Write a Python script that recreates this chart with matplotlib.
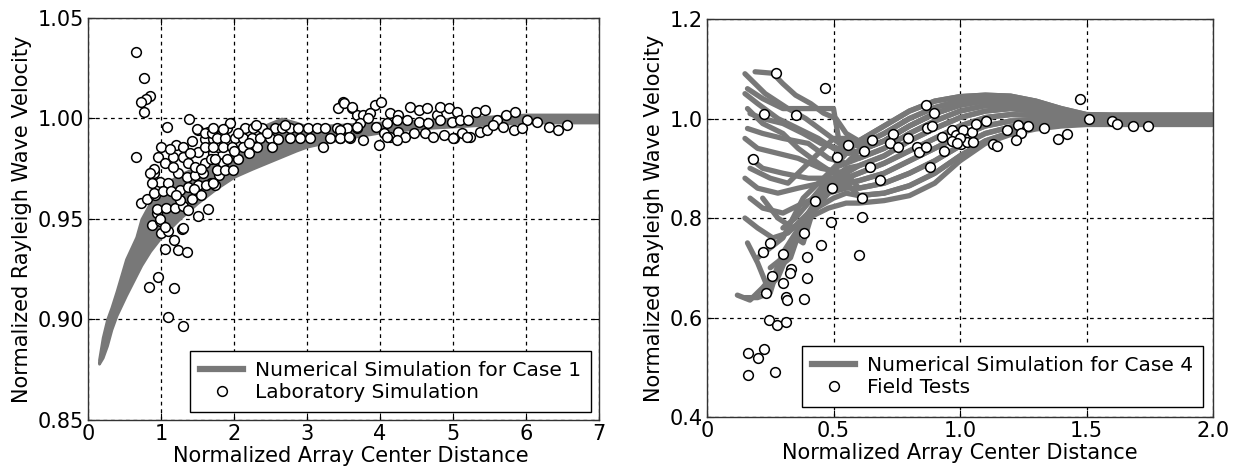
import matplotlib
matplotlib.use('Agg')
import matplotlib.pyplot as plt
from matplotlib.lines import Line2D

plt.rcParams['font.family'] = ['DejaVu Sans']

GRAY = '#787878'

# ---------------- Left panel data ----------------
left_xticks = [0, 1, 2, 3, 4, 5, 6, 7]
left_yticks = [0.85, 0.90, 0.95, 1.00, 1.05]
left_yticklabels = ['0.85', '0.90', '0.95', '1.00', '1.05']

num1_x = [0.15, 0.20, 0.26, 0.32, 0.39, 0.52, 0.66, 0.73, 0.85, 1.00, 1.25, 1.50,
          1.75, 2.00, 2.25, 2.45, 2.65, 2.85, 3.00, 3.50, 4.00, 4.50, 5.00, 5.50,
          6.00, 6.50, 7.00]
num1_upper = [0.880, 0.891, 0.900, 0.906, 0.914, 0.930, 0.941, 0.950, 0.958, 0.966,
              0.972, 0.976, 0.979, 0.982, 0.988, 0.997, 1.000, 0.998, 0.996, 0.997,
              0.998, 0.999, 1.000, 1.001, 1.002, 1.002, 1.002]
num1_lower = [0.878, 0.881, 0.887, 0.895, 0.902, 0.912, 0.922, 0.927, 0.934, 0.941,
              0.950, 0.958, 0.965, 0.971, 0.975, 0.978, 0.981, 0.984, 0.986, 0.990,
              0.993, 0.995, 0.996, 0.997, 0.998, 0.998, 0.998]

lab_pts = [
    (0.66, 1.033), (0.76, 1.020), (0.85, 1.011), (0.80, 1.0095), (0.72, 1.0084),
    (0.76, 1.003), (0.66, 0.981), (1.38, 0.9998), (1.08, 0.996), (1.00, 0.986),
    (0.73, 0.958), (0.87, 0.947), (0.98, 0.949), (0.94, 0.953), (1.00, 0.943),
    (1.10, 0.944), (1.18, 0.9395), (1.29, 0.945), (1.05, 0.935), (1.23, 0.9346),
    (1.35, 0.9337), (1.50, 0.9516), (1.65, 0.955), (0.96, 0.921), (0.84, 0.916),
    (1.18, 0.9158), (1.09, 0.9014), (1.30, 0.897), (0.81, 0.960), (0.92, 0.962),
    (0.95, 0.955), (0.99, 0.950), (1.30, 0.9455), (1.05, 0.946),
    (0.91, 0.9727), (0.98, 0.9686), (1.10, 0.9678), (1.23, 0.9727), (1.35, 0.971),
    (1.46, 0.972), (1.58, 0.9727), (1.69, 0.968), (0.91, 0.963), (1.03, 0.9637),
    (1.14, 0.9637), (1.26, 0.9645), (1.37, 0.966), (1.51, 0.967), (1.62, 0.967),
    (1.74, 0.967), (1.07, 0.9554), (1.19, 0.9554), (1.30, 0.9563), (1.37, 0.9546),
    (1.42, 0.960), (1.26, 0.9596),
    (1.21, 0.9868), (1.30, 0.986), (1.51, 0.9943), (1.64, 0.9934), (1.71, 0.9943),
    (1.60, 0.990), (1.71, 0.990), (1.51, 0.9835), (1.60, 0.986), (1.71, 0.9827),
    (1.16, 0.981), (1.30, 0.981), (0.96, 0.981), (0.91, 0.975), (1.05, 0.978),
    (1.16, 0.976), (1.37, 0.978), (1.46, 0.976), (1.60, 0.978), (1.69, 0.980),
    (0.85, 0.973), (0.87, 0.968), (1.49, 0.995), (1.60, 0.993), (1.70, 0.993),
    (1.42, 0.989), (1.12, 0.985), (1.40, 0.983), (1.55, 0.975), (1.45, 0.965),
    (1.55, 0.962), (1.20, 0.962), (1.80, 0.972), (1.85, 0.978), (1.78, 0.986),
    (1.717, 0.9951), (1.90, 0.9951), (2.151, 0.9951), (2.265, 0.9951), (2.379, 0.9951),
    (2.562, 0.9951), (2.653, 0.9951), (2.767, 0.9951), (2.881, 0.9951), (3.018, 0.9951),
    (3.132, 0.9951), (3.247, 0.9951), (3.406, 0.9951), (3.543, 0.9951), (3.680, 0.9951),
    (1.763, 0.9901), (1.877, 0.9901), (2.014, 0.9901), (2.128, 0.9901), (2.242, 0.9901),
    (2.356, 0.9901), (2.493, 0.9901), (2.767, 0.9901), (2.904, 0.9901), (3.041, 0.9901),
    (3.315, 0.9901), (3.452, 0.9901), (3.589, 0.9901),
    (1.717, 0.986), (1.854, 0.986), (1.968, 0.986), (2.128, 0.986), (2.31, 0.986),
    (2.516, 0.986), (3.224, 0.986),
    (1.74, 0.980), (1.90, 0.980), (2.06, 0.980), (1.763, 0.9744), (1.877, 0.9744),
    (1.99, 0.9744), (1.717, 0.968),
    (3.498, 1.0084), (3.429, 1.0051), (3.612, 1.0051), (3.680, 1.0017),
    (1.95, 0.998), (2.05, 0.993), (2.30, 0.997), (2.45, 0.993), (2.20, 0.988),
    (2.60, 0.990), (2.70, 0.997), (2.00, 0.984), (2.20, 0.983), (1.85, 0.995),
    (3.50, 1.0076), (3.61, 1.0056), (3.93, 1.0068), (4.02, 1.008),
    (3.77, 1.0018), (3.86, 1.0026), (4.14, 1.0026), (4.25, 1.0018), (4.41, 1.0059),
    (4.53, 1.0043), (4.64, 1.0051), (4.78, 1.0018), (4.82, 1.0059), (4.94, 1.0051),
    (5.05, 1.0034), (5.32, 1.0034), (5.44, 1.0043), (5.73, 1.0018), (5.85, 1.0034),
    (3.73, 0.9976), (3.84, 1.0001), (4.09, 0.9976), (4.23, 0.9993), (4.37, 0.9993),
    (4.53, 0.9984), (4.66, 0.9976), (4.82, 0.9993), (4.98, 0.9984), (5.10, 0.9993),
    (5.21, 0.9993), (5.60, 0.9993), (6.01, 0.9993), (6.15, 0.9984),
    (3.45, 0.9943), (3.45, 0.9901), (3.57, 0.991), (3.68, 0.9959), (3.95, 0.9959),
    (3.98, 0.9868), (4.05, 0.9926), (4.14, 0.991), (4.25, 0.9934), (4.34, 0.991),
    (4.46, 0.9926), (4.62, 0.9926), (4.73, 0.991), (4.87, 0.9918), (5.01, 0.9901),
    (5.12, 0.9926), (5.23, 0.991), (5.37, 0.9934), (5.46, 0.9943), (5.55, 0.9967),
    (5.69, 0.9959), (5.83, 0.9943), (5.94, 0.9951), (6.31, 0.9959), (6.44, 0.9943),
    (6.56, 0.9968), (3.77, 0.9893), (4.09, 0.991), (4.23, 0.9893), (5.00, 0.9901),
    (5.19, 0.991),
]
lab_x = [p[0] for p in lab_pts]
lab_y = [p[1] for p in lab_pts]

# ---------------- Right panel data ----------------
right_xticks = [0, 0.5, 1.0, 1.5, 2.0]
right_xticklabels = ['0', '0.5', '1.0', '1.5', '2.0']
right_yticks = [0.4, 0.6, 0.8, 1.0, 1.2]
right_yticklabels = ['0.4', '0.6', '0.8', '1.0', '1.2']

tmpl_x = [0.6, 0.7, 0.8, 0.9, 1.0, 1.1, 1.2, 1.3, 1.4, 1.5, 1.6, 1.8, 2.0]
tmpl = {
    'hi1':  [0.955, 0.985, 1.015, 1.035, 1.044, 1.047, 1.045, 1.035, 1.020, 1.008, 1.007, 1.007, 1.007],
    'hi2':  [0.945, 0.970, 1.000, 1.022, 1.036, 1.042, 1.040, 1.030, 1.017, 1.006, 1.005, 1.005, 1.005],
    'hi3':  [0.935, 0.955, 0.985, 1.010, 1.027, 1.036, 1.035, 1.027, 1.014, 1.004, 1.003, 1.003, 1.003],
    'mid1': [0.920, 0.940, 0.970, 0.995, 1.015, 1.026, 1.028, 1.020, 1.010, 1.002, 1.001, 1.001, 1.001],
    'mid2': [0.905, 0.925, 0.955, 0.980, 1.002, 1.015, 1.020, 1.014, 1.006, 1.000, 0.999, 0.999, 0.999],
    'mid3': [0.890, 0.910, 0.935, 0.960, 0.985, 1.002, 1.008, 1.006, 1.002, 0.998, 0.997, 0.997, 0.997],
    'lo1':  [0.875, 0.890, 0.915, 0.940, 0.965, 0.985, 0.995, 0.997, 0.996, 0.995, 0.995, 0.995, 0.995],
    'lo2':  [0.860, 0.870, 0.890, 0.915, 0.945, 0.970, 0.983, 0.989, 0.991, 0.993, 0.993, 0.993, 0.993],
    'lo3':  [0.845, 0.850, 0.865, 0.890, 0.925, 0.955, 0.972, 0.982, 0.987, 0.990, 0.990, 0.990, 0.990],
    'lo4':  [0.830, 0.835, 0.845, 0.870, 0.915, 0.950, 0.968, 0.979, 0.985, 0.988, 0.988, 0.988, 0.988],
}
# near-source part of each simulated curve, and the far-field track it continues into
case4_heads = [
    ([0.15, 0.23, 0.32, 0.39, 0.47, 0.55], [1.09, 1.05, 1.02, 1.00, 0.97, 0.94], 'mid1'),
    ([0.19, 0.26, 0.30, 0.35, 0.41, 0.46, 0.51, 0.55], [1.094, 1.091, 1.07, 1.047, 1.03, 1.011, 1.00, 0.97], 'hi1'),
    ([0.16, 0.22, 0.30, 0.38, 0.50, 0.52, 0.56], [1.06, 1.04, 1.02, 1.02, 1.02, 0.96, 0.95], 'hi2'),
    ([0.17, 0.22, 0.30, 0.38, 0.45, 0.52, 0.56], [1.01, 1.00, 0.99, 0.97, 0.95, 0.94, 0.93], 'hi3'),
    ([0.15, 0.20, 0.28, 0.36, 0.44, 0.50, 0.55], [1.05, 1.03, 1.00, 0.98, 0.96, 0.94, 0.93], 'hi3'),
    ([0.16, 0.22, 0.30, 0.40, 0.48, 0.55], [0.98, 0.97, 0.96, 0.95, 0.92, 0.91], 'mid1'),
    ([0.15, 0.20, 0.28, 0.36, 0.45, 0.55], [0.96, 0.94, 0.93, 0.92, 0.90, 0.89], 'mid2'),
    ([0.17, 0.22, 0.30, 0.40, 0.50, 0.55], [0.92, 0.90, 0.89, 0.88, 0.88, 0.88], 'mid3'),
    ([0.15, 0.20, 0.28, 0.36, 0.45, 0.55], [0.88, 0.86, 0.85, 0.86, 0.87, 0.87], 'lo1'),
    ([0.17, 0.22, 0.30, 0.38, 0.48, 0.55], [0.84, 0.82, 0.81, 0.83, 0.85, 0.86], 'lo2'),
    ([0.15, 0.20, 0.26, 0.32, 0.40, 0.50, 0.55], [0.80, 0.78, 0.76, 0.77, 0.81, 0.84, 0.85], 'lo3'),
    ([0.22, 0.28, 0.34, 0.40, 0.48, 0.55], [0.84, 0.80, 0.78, 0.80, 0.82, 0.83], 'lo4'),
    ([0.16, 0.20, 0.24, 0.28, 0.33, 0.40, 0.48, 0.55], [0.75, 0.71, 0.66, 0.68, 0.74, 0.80, 0.85, 0.87], 'lo1'),
    ([0.15, 0.20, 0.25, 0.28, 0.33, 0.37, 0.42, 0.50, 0.55], [0.64, 0.64, 0.65, 0.70, 0.72, 0.78, 0.82, 0.86, 0.88], 'mid3'),
    ([0.12, 0.17, 0.22, 0.27, 0.30, 0.35, 0.40, 0.45, 0.50, 0.55], [0.645, 0.635, 0.66, 0.69, 0.73, 0.77, 0.81, 0.85, 0.88, 0.90], 'mid2'),
    ([0.20, 0.25, 0.30, 0.34, 0.38, 0.44, 0.50, 0.55], [0.72, 0.74, 0.76, 0.80, 0.84, 0.87, 0.90, 0.91], 'hi3'),
    ([0.25, 0.30, 0.35, 0.38, 0.41, 0.45, 0.50, 0.55], [0.70, 0.72, 0.76, 0.75, 0.80, 0.84, 0.87, 0.89], 'lo2'),
    ([0.30, 0.35, 0.40, 0.45, 0.50, 0.55], [0.78, 0.80, 0.83, 0.86, 0.90, 0.93], 'hi1'),
    ([0.16, 0.22, 0.30, 0.36, 0.44, 0.50, 0.55], [1.02, 0.99, 0.97, 0.94, 0.91, 0.89, 0.87], 'lo3'),
    ([0.17, 0.25, 0.32, 0.38, 0.44, 0.50, 0.55], [0.90, 0.88, 0.87, 0.90, 0.93, 0.96, 0.96], 'hi2'),
]

field_pts = [
    (0.273, 1.091), (0.468, 1.062), (0.225, 1.010), (0.353, 1.008), (0.183, 0.919),
    (0.556, 0.947), (0.515, 0.922), (0.620, 0.935), (0.653, 0.957), (0.644, 0.903),
    (0.685, 0.876), (0.493, 0.861), (0.427, 0.835), (0.614, 0.840), (0.611, 0.802),
    (0.489, 0.793), (0.385, 0.769), (0.864, 1.027), (0.898, 1.012), (0.734, 0.968),
    (0.723, 0.950), (0.754, 0.943), (0.796, 0.960), (0.831, 0.943), (0.838, 0.933),
    (0.866, 0.943), (0.868, 0.980), (0.888, 0.985), (0.881, 0.903), (0.930, 0.963),
    (0.938, 0.935), (0.970, 0.976), (0.984, 0.967), (1.013, 0.976), (1.004, 0.949),
    (1.027, 0.953), (1.046, 0.973), (1.053, 0.953), (1.063, 0.989), (1.103, 0.996),
    (1.132, 0.949), (1.474, 1.039), (1.510, 0.999), (1.602, 0.996), (1.619, 0.990),
    (1.685, 0.985), (1.744, 0.985), (1.330, 0.980), (1.386, 0.958), (1.422, 0.969),
    (1.270, 0.985), (1.231, 0.987), (1.187, 0.977), (1.241, 0.971), (1.220, 0.957),
    (1.145, 0.945), (0.970, 0.955), (1.000, 0.960), (0.990, 0.950),
    (0.249, 0.749), (0.223, 0.732), (0.299, 0.728), (0.397, 0.722), (0.449, 0.746),
    (0.602, 0.726), (0.331, 0.697), (0.328, 0.690), (0.256, 0.683), (0.302, 0.670),
    (0.394, 0.679), (0.233, 0.649), (0.311, 0.642), (0.315, 0.635), (0.383, 0.637),
    (0.246, 0.596), (0.275, 0.585), (0.311, 0.592), (0.161, 0.528), (0.203, 0.518),
    (0.225, 0.537), (0.161, 0.484), (0.269, 0.491),
]
field_x = [p[0] for p in field_pts]
field_y = [p[1] for p in field_pts]

# ---------------- Figure ----------------
fig = plt.figure(figsize=(12.33, 4.71), dpi=100)
axL = fig.add_axes([0.0714, 0.1083, 0.4144, 0.8535])
axR = fig.add_axes([0.5734, 0.1146, 0.4104, 0.8450])

FS = 15
LFS = 14.5
grid_kw = dict(color='black', linestyle=(0, (3, 3)), linewidth=0.9)
mk_kw = dict(marker='o', linestyle='none', markersize=7, markerfacecolor='white',
             markeredgecolor='black', markeredgewidth=1.1)
leg_kw = dict(loc='lower right', fontsize=LFS, frameon=True, fancybox=False,
              edgecolor='black', framealpha=1, labelspacing=0.12,
              handlelength=2.1, handletextpad=0.6, borderpad=0.5)

def style(ax):
    for s in ax.spines.values():
        s.set_linewidth(1.0)
        s.set_color('#333333')
    ax.tick_params(direction='in', length=5, labelsize=FS, width=0.8,
                   top=True, right=True, pad=3)
    ax.grid(True, **grid_kw)
    ax.set_axisbelow(True)

# Left
axL.fill_between(num1_x, num1_lower, num1_upper, color=GRAY, edgecolor=GRAY,
                 linewidth=2.0, zorder=2)
axL.plot(lab_x, lab_y, zorder=3, **mk_kw)
axL.set_xlim(0, 7)
axL.set_ylim(0.85, 1.05)
axL.set_xticks(left_xticks)
axL.set_yticks(left_yticks)
axL.set_yticklabels(left_yticklabels)
style(axL)
axL.set_xlabel('Normalized Array Center Distance', fontsize=FS, labelpad=1)
axL.xaxis.set_label_coords(0.515, -0.065)
axL.set_ylabel('Normalized Rayleigh Wave Velocity', fontsize=FS, labelpad=4)
hL = [Line2D([], [], color=GRAY, linewidth=4.5),
      Line2D([], [], **mk_kw)]
legL = axL.legend(hL, ['Numerical Simulation for Case 1', 'Laboratory Simulation'],
                  borderaxespad=0.4, **leg_kw)
legL.get_frame().set_linewidth(1.0)

# Right
for hx, hy, key in case4_heads:
    axR.plot(hx + tmpl_x, hy + tmpl[key], color=GRAY, linewidth=3.8,
             solid_capstyle='round', solid_joinstyle='round', zorder=2)
axR.plot(field_x, field_y, zorder=3, **mk_kw)
axR.set_xlim(0, 2.0)
axR.set_ylim(0.4, 1.2)
axR.set_xticks(right_xticks)
axR.set_xticklabels(right_xticklabels)
axR.set_yticks(right_yticks)
axR.set_yticklabels(right_yticklabels)
style(axR)
axR.set_xlabel('Normalized Array Center Distance', fontsize=FS, labelpad=1)
axR.set_ylabel('Normalized Rayleigh Wave Velocity', fontsize=FS, labelpad=4)
hR = [Line2D([], [], color=GRAY, linewidth=4.5),
      Line2D([], [], **mk_kw)]
legR = axR.legend(hR, ['Numerical Simulation for Case 4', 'Field Tests'],
                  borderaxespad=0.5, **leg_kw)
legR.get_frame().set_linewidth(1.0)

fig.savefig('out.png', dpi=100)
